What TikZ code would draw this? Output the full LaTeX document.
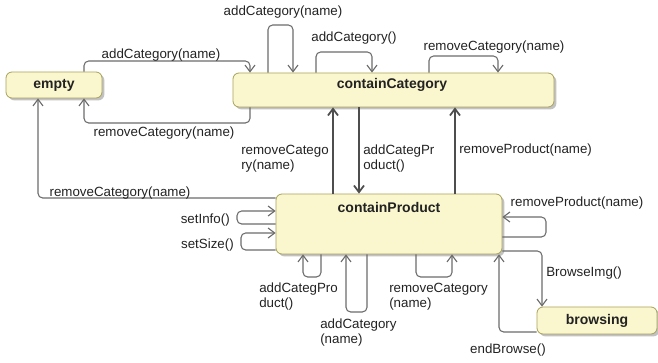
\documentclass[tikz,border=0pt]{standalone}
\usepackage{fontspec}
\setmainfont{Liberation Sans}
\usetikzlibrary{arrows.meta,shadows}
\definecolor{stfill}{HTML}{FAF6CE}
\definecolor{stline}{HTML}{A8A25A}
\definecolor{wire}{HTML}{6B6B6B}
\definecolor{wiredark}{HTML}{4E4E4E}
\definecolor{ink}{HTML}{222222}
\tikzset{
  stbox/.style={draw=stline, fill=stfill, line width=0.6pt, rounded corners=4.5pt,
    inner sep=0pt, font=\fontsize{10.5}{12}\selectfont\bfseries, text=ink,
    drop shadow={shadow xshift=1.8pt, shadow yshift=-1.8pt, fill=black!40, opacity=0.6}},
  title/.style={font=\fontsize{10.5}{12}\selectfont\bfseries, text=ink, inner sep=0pt},
  lbl/.style={font=\fontsize{10}{11}\selectfont, text=ink, inner sep=0pt, align=left},
  tr/.style={draw=wire, line width=0.8pt, rounded corners=3.5pt,
    -{Straight Barb[length=5pt,width=7.5pt]}},
  trk/.style={tr, draw=wiredark, line width=1.3pt},
}
\begin{document}
\begin{tikzpicture}[x=0.75pt,y=-0.75pt]
\useasboundingbox (0,0) rectangle (658,363);

% states
\node[stbox, minimum width=72pt, minimum height=19.5pt] (em) at (54,85) {empty};
\node[stbox, minimum width=240.75pt, minimum height=25.5pt] (cc) at (393.5,90) {};
\node[title] (cct) at (392,85) {containCategory};
\node[stbox, minimum width=169.5pt, minimum height=45pt] (cp) at (389,224) {};
\node[title] (cpt) at (389,207) {containProduct};
\node[stbox, minimum width=90pt, minimum height=20.25pt] (br) at (597,320.5) {browsing};

% empty <-> containCategory
\draw[tr] (84,0 |- em.north) -- (84,61) -- (250,61) -- (250,0 |- cc.north);
\node[lbl] (l1) at (161,55) {addCategory(name)};
\draw[tr] (250,0 |- cc.south) -- (250,123) -- (84,123) -- (84,0 |- em.south);
\node[lbl] (l2) at (164,133) {removeCategory(name)};

% self loops on containCategory
\draw[tr] (268,0 |- cc.north) -- (268,25) -- (293,25) -- (293,0 |- cc.north);
\node[lbl] (l3) at (283,12) {addCategory(name)};
\draw[tr] (316,0 |- cc.north) -- (316,52) -- (372,52) -- (372,0 |- cc.north);
\node[lbl] (l4) at (354,38) {addCategory()};
\draw[tr] (429,0 |- cc.north) -- (429,56) -- (498,56) -- (498,0 |- cc.north);
\node[lbl] (l5) at (494,47) {removeCategory(name)};

% containProduct -> empty
\draw[tr] (0,198 -| cp.west) -- (38,198) -- (38,0 |- em.south);
\node[lbl] (l6) at (120,193) {removeCategory(name)};

% containCategory <-> containProduct
\draw[trk] (333,0 |- cp.north) -- (333,0 |- cc.south);
\node[lbl, anchor=north west] (l7) at (241,145) {removeCatego\\ry(name)};
\draw[trk] (359,0 |- cc.south) -- (359,0 |- cp.north);
\node[lbl, anchor=north west] (l8) at (363,145) {addCategPr\\oduct()};
\draw[trk] (455,0 |- cp.north) -- (455,0 |- cc.south);
\node[lbl, anchor=north west] (l9) at (459,144) {removeProduct(name)};

% left loops on containProduct
\draw[tr] (0,224 -| cp.west) -- (237,224) -- (237,211) -- (0,211 -| cp.west);
\node[lbl, anchor=east] (l10) at (230,220) {setInfo()};
\draw[tr] (0,250 -| cp.west) -- (241,250) -- (241,233) -- (0,233 -| cp.west);
\node[lbl, anchor=east] (l11) at (234,245) {setSize()};

% bottom loops on containProduct
\draw[tr] (321,0 |- cp.south) -- (321,277) -- (303,277) -- (303,0 |- cp.south);
\node[lbl, anchor=north west] (l12) at (259,283) {addCategPro\\duct()};
\draw[tr] (367,0 |- cp.south) -- (367,312) -- (346,312) -- (346,0 |- cp.south);
\node[lbl, anchor=north west] (l13) at (320,319) {addCategory\\(name)};
\draw[tr] (416,0 |- cp.south) -- (416,277) -- (452,277) -- (452,0 |- cp.south);
\node[lbl, anchor=north west] (l14) at (389,283) {removeCategory\\(name)};

% right loop on containProduct
\draw[tr] (0,237 -| cp.east) -- (546,237) -- (546,217) -- (0,217 -| cp.east);
\node[lbl] (l15) at (577,203) {removeProduct(name)};

% containProduct <-> browsing
\draw[tr] (0,251 -| cp.east) -- (542,251) -- (542,0 |- br.north);
\node[lbl, anchor=west] (l16) at (546,273) {BrowseImg()};
\draw[tr] (0,332 -| br.west) -- (499,332) -- (499,0 |- cp.south);
\node[lbl] (l17) at (508,350) {endBrowse()};
\end{tikzpicture}
\end{document}
